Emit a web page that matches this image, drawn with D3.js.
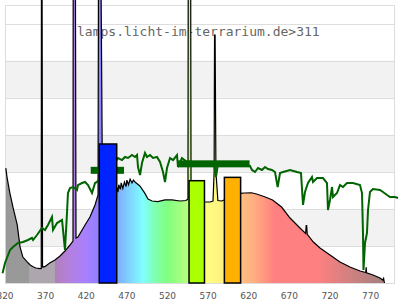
<!DOCTYPE html>
<html>
<head>
<meta charset="utf-8">
<script src="https://cdn.jsdelivr.net/npm/d3@7"></script>
<style>
  body { margin: 0; background: #fff; }
  svg { display: block; }
</style>
</head>
<body>
<script>
// ---- data ----
var xTicks = [320, 370, 420, 470, 520, 570, 620, 670, 720, 770];
var yGrid = [0, 40, 80, 120, 160, 200, 240, 280];
var shadedBands = [[40, 80], [120, 160], [200, 240]];

// lamp spectrum (black outline)
var specNm = [321, 322.5, 326, 330, 335, 338.5, 342, 347, 351, 354.5, 358, 363, 364.6, 364.9, 365.5, 366.2, 369, 375, 381.5, 387.7, 393.8, 400, 403.7,
  404, 406.5, 407.4, 409.8, 418.5, 424.6, 430.8, 434.5, 435.2, 437.6, 440, 450, 457.5,
  458, 459, 460, 462, 463, 465, 467, 469, 470, 472, 474, 476.3, 478, 480, 486, 492, 496, 501, 508, 517, 525.5, 535.4, 542.8, 545.2,
  545.6, 548.4, 549, 556, 566, 572.3, 576, 577.4, 577.9, 578.6, 579.6, 582, 587, 589.4, 600, 610, 614.8, 623.4, 629.6, 639.5, 649.3, 660.4, 670.8, 683, 690,
  690.7, 691.3, 692, 699.5, 707.7, 720, 732.3, 744.6, 757, 764, 764.5, 765, 773, 781.5, 785, 786, 787];
var specVal = [124, 114, 97, 81, 63, 39, 28, 23, 19.5, 17.5, 16.2, 15.6, 15.8, 400, 400, 17.3, 17.6, 21.6, 24.8, 29.1, 34.5, 41, 45.3,
  400, 400, 48.6, 49.6, 62.6, 71.2, 84.2, 95, 400, 400, 99, 100, 100,
  103, 98, 106, 101, 108, 102, 109, 104, 111, 106, 112, 108, 111, 109, 104.7, 97, 90.6, 88.5, 87.9, 89.6, 89.6, 88.5, 89, 90.6,
  400, 400, 90, 88, 87.4, 87.4, 88.5, 120, 267.6, 267.6, 120, 89, 88.5, 89.6, 95, 96.8, 97.1, 97.4, 96, 93.1, 89.6, 82, 70.1, 59.4, 53.5,
  62, 62, 52.5, 44.2, 37.8, 30.2, 22.7, 17.3, 12.9, 11.3, 17, 11, 8.6, 5.4, 3.2, 5, 0];

// second curve (dark green)
var transNm = [317, 320, 326.2, 329.8, 336, 342.2, 348.3, 353.2, 354.5, 359.4, 365.5, 369.2, 372.9, 377.8, 379.1, 384, 390.2, 393.8, 396.3, 397.5, 400, 403.7, 408.6, 409.8, 414.8, 418.5, 422.2, 427.1, 430.8, 433.2,
  445, 457.5, 459.1, 464, 467.7, 471.4, 476.3, 480, 482.5, 483.7, 486.2, 488.6, 492.3, 494.8, 498.5, 502.2, 507.1, 510.8, 514.5, 516.9, 519.4, 523.1, 526.8, 531.7, 532.9, 537.8, 544,
  548, 553.8, 560, 566.2, 572, 577.2, 579.7, 582, 590, 596.8, 605, 615.3, 621.5, 624, 627.7, 631.4, 636.3, 640, 643.7, 648.6, 652.3, 655.6, 658.5, 662.2, 670.8, 679.4, 684.3, 686.8, 689.2, 692.9, 697.8, 699.1, 704, 711.4,
  716.3, 717.5, 720, 722.5, 723.7, 728.6, 732.3, 736, 740.9, 748.3, 756.9, 759.4, 760.6, 761.2, 763.1, 765.5, 766.8, 769.2, 772.9, 781.5, 785.2, 790.2, 793.9, 800, 803.7];
var transVal = [10.5, 21.6, 35.6, 38.8, 43.2, 44.2, 46.4, 48.6, 46.4, 51.8, 59.4, 57.2, 62.6, 71.2, 57.2, 64.7, 68, 35.6, 75.5, 97.1, 102.5, 103.6, 100.4, 105.7, 107.9, 109, 105.7, 97.1, 107.9, 109,
  122, 132.7, 134.9, 132.7, 136, 134.9, 138.1, 136, 138.1, 125.2, 116.5, 129.5, 140.3, 136, 138.1, 134.9, 136, 130.6, 119.8, 109, 124.1, 134.9, 132.7, 138.1, 125.2, 134.9, 130.6,
  131, 129.5, 127, 128.4, 130, 129.5, 114.4, 128.4, 130, 128.4, 127, 127.3, 126.3, 122, 119.8, 124.1, 122, 125.2, 123, 122, 119.8, 103.6, 118.7, 119.8, 122, 119.8, 118.7, 84.2, 98.2, 107.9, 114.4, 109, 113.3, 113.3,
  107.9, 78.8, 89.6, 103.6, 92.8, 97.1, 105.7, 103.6, 107.9, 107.9, 105.7, 97.1, 54, 14, 43.2, 54, 78.8, 98.2, 101.4, 100.4, 98.2, 95, 92.8, 92.8, 91.7];

// thick green range markers
var markStart = [425.5, 533];
var markEnd = [466.5, 621];
var markVal = [121.6, 128.6];

// coloured bars
var barStart = [436, 546.5, 590];
var barEnd = [457.5, 565.5, 610];
var barVal = [150, 110.4, 114];
var barColor = ["#0024ff", "#aaff00", "#ffb000"];

// fill colours under the spectrum
var fillNm = [320, 350, 350, 381, 381, 400, 420, 436, 457, 475, 490, 505, 520, 545, 552, 565, 590, 600, 610, 625, 652, 705, 745, 790];
var fillCol = ["#999999", "#999999", "#aea6ae", "#aea6ae", "#b080b8", "#b480e0", "#a880ff", "#8c80ff", "#80a8ff", "#80d8ff", "#80ffff", "#80ffb0", "#80ff80", "#b8ff80", "#d8ff80", "#ffff80", "#fff080", "#ffd080", "#ffc080", "#ffb080", "#ff8080", "#ff8080", "#d08080", "#a08080"];

var title = "lamps.licht-im-terrarium.de>311";

// ---- layout ----
var width = 400, height = 300;
var plot = {left: 5, right: 395, top: 5, bottom: 283};

var x = d3.scaleLinear().domain([320, 800]).range([plot.left, plot.right]);
var y = d3.scaleLinear().domain([0, 300]).range([plot.bottom, plot.top]);

var svg = d3.select("body").append("svg")
    .attr("width", width)
    .attr("height", height);

//Background bands
svg.append("g").selectAll("rect")
    .data(shadedBands).enter()
    .append("rect")
    .attr("x", plot.left)
    .attr("width", plot.right - plot.left)
    .attr("y", function(d) { return y(d[1]); })
    .attr("height", function(d) { return y(d[0]) - y(d[1]); })
    .attr("fill", "#f2f2f2");

//Grid
svg.append("g").selectAll("line")
    .data(yGrid).enter()
    .append("line")
    .attr("x1", plot.left).attr("x2", plot.right)
    .attr("y1", function(d) { return Math.round(y(d)) + 0.5; })
    .attr("y2", function(d) { return Math.round(y(d)) + 0.5; })
    .attr("stroke", "#dddddd");

svg.append("rect")
    .attr("x", plot.left + 0.5).attr("y", plot.top + 0.5)
    .attr("width", plot.right - plot.left - 1)
    .attr("height", plot.bottom - plot.top)
    .attr("fill", "none")
    .attr("stroke", "#dddddd");

//Title
svg.append("text")
    .attr("x", 77).attr("y", 36)
    .attr("font-family", "DejaVu Sans Mono, monospace")
    .attr("font-size", 13)
    .attr("fill", "#666")
    .text(title);

//Gradient for the spectrum fill
var grad = svg.append("defs").append("linearGradient")
    .attr("id", "specfill")
    .attr("gradientUnits", "userSpaceOnUse")
    .attr("x1", x(320)).attr("x2", x(800))
    .attr("y1", 0).attr("y2", 0);
fillNm.forEach(function(nm, i) {
    grad.append("stop")
        .attr("offset", (nm - 320) / 480)
        .attr("stop-color", fillCol[i]);
});

var spec = specNm.map(function(d, i) { return {nm: d, v: specVal[i]}; });
var trans = transNm.map(function(d, i) { return {nm: d, v: transVal[i]}; });

var area = d3.area()
    .x(function(d) { return x(d.nm); })
    .y0(y(0))
    .y1(function(d) { return y(d.v); });
var line = d3.line()
    .x(function(d) { return x(d.nm); })
    .y(function(d) { return y(d.v); });

svg.append("path")
    .attr("d", area(spec))
    .attr("fill", "url(#specfill)");
svg.append("path")
    .attr("d", line(spec))
    .attr("fill", "none")
    .attr("stroke", "#000")
    .attr("stroke-width", 1.2);

//Green curve
svg.append("path")
    .attr("d", line(trans))
    .attr("fill", "none")
    .attr("stroke", "#006400")
    .attr("stroke-width", 2);

//Green range markers
svg.append("g").selectAll("rect")
    .data(markVal).enter()
    .append("rect")
    .attr("x", function(d, i) { return x(markStart[i]); })
    .attr("width", function(d, i) { return x(markEnd[i]) - x(markStart[i]); })
    .attr("y", function(d) { return y(d) - 3.5; })
    .attr("height", 7)
    .attr("fill", "#006400");

//Bars
svg.append("g").selectAll("rect")
    .data(barVal).enter()
    .append("rect")
    .attr("x", function(d, i) { return x(barStart[i]); })
    .attr("width", function(d, i) { return x(barEnd[i]) - x(barStart[i]); })
    .attr("y", function(d) { return y(d); })
    .attr("height", function(d) { return y(0) - y(d); })
    .attr("fill", function(d, i) { return barColor[i]; })
    .attr("stroke", "#000")
    .attr("stroke-width", 1.5);

//X axis labels (the first one is cut at the left edge, as in the original)
svg.append("g").selectAll("text")
    .data(xTicks).enter()
    .append("text")
    .attr("x", function(d) { return x(d); })
    .attr("y", 299)
    .attr("text-anchor", "middle")
    .attr("font-family", "DejaVu Sans, sans-serif")
    .attr("font-size", 9)
    .attr("fill", "#555")
    .text(function(d) { return d; });
</script>
</body>
</html>
